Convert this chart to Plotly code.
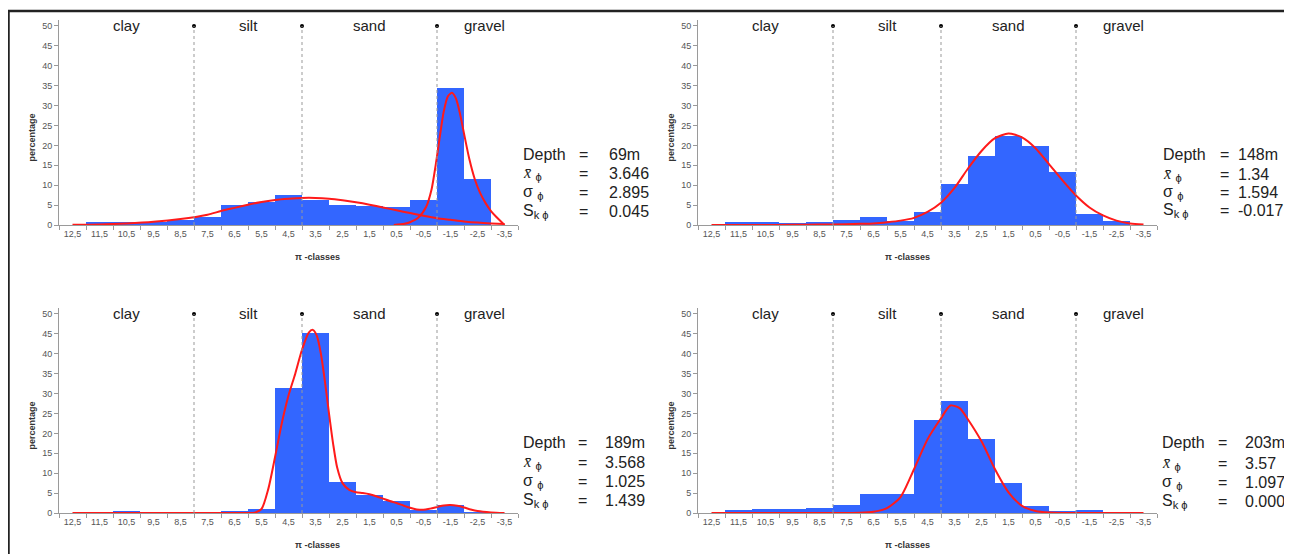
import plotly.graph_objects as go

# The page places the figure at an 8 px body margin, so the figure is sized to fit the window.
OFF = 8
W, H = 1292 - OFF, 554 - OFF

# ---------------- data ----------------
phi_classes = [12.5, 11.5, 10.5, 9.5, 8.5, 7.5, 6.5, 5.5, 4.5, 3.5, 2.5, 1.5, 0.5, -0.5, -1.5, -2.5, -3.5]
tick_labels = ["12,5", "11,5", "10,5", "9,5", "8,5", "7,5", "6,5", "5,5", "4,5", "3,5",
               "2,5", "1,5", "0,5", "-0,5", "-1,5", "-2,5", "-3,5"]
y_ticks = [0, 5, 10, 15, 20, 25, 30, 35, 40, 45, 50]

class_boundaries = [8, 4, -1]
region_names = ["clay", "silt", "sand", "gravel"]
region_centers = [10.5, 6.0, 1.5, -2.75]

pct_69m = [0, 0.8, 0.7, 0.7, 1.3, 1.9, 5.0, 5.7, 7.5, 6.3, 5.0, 4.9, 4.4, 6.3, 34.5, 11.5, 0]
pct_148m = [0, 0.75, 0.75, 0.5, 0.75, 1.2, 1.9, 1.1, 3.3, 10.2, 17.4, 22.4, 19.9, 13.3, 2.7, 1.0, 0]
pct_189m = [0, 0, 0.4, 0, 0, 0, 0.5, 1.0, 31.4, 45.1, 7.8, 4.4, 2.9, 0.7, 2.0, 0.2, 0]
pct_203m = [0, 0.7, 0.9, 0.9, 1.2, 1.9, 4.9, 4.7, 23.4, 28.1, 18.6, 7.5, 1.7, 0.5, 0.7, 0, 0]

# fitted curves
curve_69m_broad_x = [12.5, 11.5, 10.5, 9.5, 8.5, 7.5, 7.0, 6.5, 6.0, 5.5, 5.0, 4.5, 4.0, 3.5, 3.0,
                     2.5, 2.0, 1.5, 1.0, 0.5, 0.0, -0.5, -1.0, -1.5, -2.0, -2.5, -3.0, -3.5]
curve_69m_broad_y = [0.05, 0.15, 0.4, 0.8, 1.5, 2.6, 3.5, 4.3, 5.1, 5.8, 6.3, 6.6, 6.8, 6.8, 6.6,
                     6.2, 5.7, 5.1, 4.4, 3.7, 3.0, 2.3, 1.7, 1.3, 0.9, 0.6, 0.4, 0.25]
curve_69m_peak_x = [0.6, 0.2, 0.0, -0.3, -0.6, -0.8, -0.95, -1.1, -1.25, -1.4, -1.55, -1.7, -1.85,
                    -2.0, -2.2, -2.4, -2.6, -2.8, -3.0, -3.2, -3.35, -3.5]
curve_69m_peak_y = [0, 0.3, 0.7, 1.8, 4.6, 9.0, 15.0, 22.0, 28.5, 32.3, 33.2, 31.8, 28.0,
                    23.0, 16.5, 11.5, 8.0, 5.5, 3.5, 2.0, 1.0, 0]

curve_148m_x = [12.5, 11.5, 10.5, 9.5, 8.5, 7.5, 7.0, 6.5, 6.0, 5.5, 5.0, 4.5, 4.0, 3.5, 3.0, 2.5,
                2.0, 1.5, 1.0, 0.5, 0.0, -0.5, -1.0, -1.5, -2.0, -2.5, -3.0, -3.5]
curve_148m_y = [0, 0, 0, 0.05, 0.1, 0.2, 0.3, 0.4, 0.7, 1.1, 1.8, 3.3, 5.6, 9.3, 14.2, 18.6,
                21.8, 23.0, 22.0, 19.3, 15.3, 11.2, 7.4, 4.4, 2.4, 1.1, 0.4, 0.1]

curve_189m_x = [12.5, 11.5, 10.5, 9.5, 8.5, 7.5, 6.5, 6.0, 5.75, 5.5, 5.25, 5.0, 4.75, 4.5, 4.25,
                4.0, 3.75, 3.6, 3.45, 3.3, 3.15, 3.0, 2.85, 2.7, 2.5, 2.25, 2.0, 1.75, 1.5, 1.25,
                1.0, 0.75, 0.5, 0.25, 0.0, -0.25, -0.5, -0.75, -1.0, -1.25, -1.5, -1.75, -2.0,
                -2.25, -2.5, -3.0, -3.5]
curve_189m_y = [0, 0, 0, 0, 0, 0, 0, 0, 0.1, 1.0, 6.0, 14.0, 22.5, 29.5, 35.0,
                41.0, 45.3, 46.0, 44.5, 40.0, 33.0, 25.0, 17.5, 11.5, 7.5, 5.8, 5.2, 5.0, 4.7, 4.2,
                3.6, 3.0, 2.5, 1.9, 1.3, 0.9, 0.8, 1.1, 1.5, 1.9, 2.0, 1.8, 1.4,
                0.9, 0.5, 0.15, 0]

curve_203m_x = [12.5, 11.5, 10.5, 9.5, 8.5, 7.5, 7.0, 6.5, 6.0, 5.5, 5.0, 4.5, 4.0, 3.65, 3.3,
                3.0, 2.5, 2.0, 1.5, 1.0, 0.5, 0.0, -0.5, -1.5, -2.5, -3.5]
curve_203m_y = [0, 0, 0, 0, 0, 0, 0.05, 0.3, 1.2, 4.0, 11.0, 18.5, 23.8, 27.0, 26.3,
                23.5, 18.0, 11.0, 5.2, 1.8, 0.5, 0.1, 0, 0, 0, 0]

depths = ["69m", "148m", "189m", "203m"]
means = ["3.646", "1.34", "3.568", "3.57"]
sortings = ["2.895", "1.594", "1.025", "1.097"]
skewness = ["0.045", "-0.017", "1.439", "0.000"]

panels = [
    dict(pct=pct_69m, curves=[(curve_69m_broad_x, curve_69m_broad_y), (curve_69m_peak_x, curve_69m_peak_y)]),
    dict(pct=pct_148m, curves=[(curve_148m_x, curve_148m_y)]),
    dict(pct=pct_189m, curves=[(curve_189m_x, curve_189m_y)]),
    dict(pct=pct_203m, curves=[(curve_203m_x, curve_203m_y)]),
]

# ---------------- layout geometry (window pixels) ----------------
# (left px, right px, bottom px, top px) of each plot area
boxes = [
    (59, 518, 225, 20),
    (698, 1157, 225, 20),
    (59, 518, 513, 308),
    (698, 1157, 513, 308),
]
# stats block: label x, "=" x, value x, row ys
stat_pos = [
    (521, 583, 607, [155, 173, 192, 211]),
    (1161, 1224, 1236, [155, 174, 192, 210]),
    (521, 582, 603, [443, 462, 481, 500]),
    (1160, 1222, 1243, [443, 463, 482, 501]),
]

BLUE = "#3366FF"
RED = "#FF1A1A"
FONT = "Liberation Sans"
TXT = "#222222"


def px(x):
    return (x - OFF) / W


def py(y):
    return 1 - (y - OFF) / H


fig = go.Figure()
annotations = []
shapes = []

for i, p in enumerate(panels):
    n = "" if i == 0 else str(i + 1)
    xa, ya = "x" + n, "y" + n
    fig.add_trace(go.Bar(x=phi_classes, y=p["pct"], width=1.0, marker=dict(color=BLUE, line=dict(width=0)),
                         xaxis=xa, yaxis=ya, showlegend=False, hoverinfo="x+y"))
    for cx, cy in p["curves"]:
        fig.add_trace(go.Scatter(x=cx, y=cy, mode="lines", xaxis=xa, yaxis=ya, showlegend=False,
                                 line=dict(color=RED, width=2, shape="spline", smoothing=0.7)))
    fig.add_trace(go.Scatter(x=class_boundaries, y=[50] * len(class_boundaries), mode="markers",
                             marker=dict(color="black", size=4), xaxis=xa, yaxis=ya, showlegend=False,
                             cliponaxis=False))
    l, r, b, t = boxes[i]
    axis_common = dict(showline=True, linecolor="#9a9a9a", linewidth=1, showgrid=False, zeroline=False,
                       automargin=False, tickfont=dict(family=FONT, size=9, color="#555555"))
    fig.update_layout(**{
        ("xaxis" + n): dict(domain=[px(l), px(r)], anchor=ya, range=[13, -4], tickmode="array",
                            tickvals=phi_classes, ticktext=tick_labels, ticks="",
                            minor=dict(ticks="outside", ticklen=4, tick0=0, dtick=1, tickcolor="#9a9a9a"),
                            **axis_common),
        ("yaxis" + n): dict(domain=[py(b), py(t)], anchor=xa, range=[0, 51.5], tickmode="array",
                            tickvals=y_ticks, ticks="outside", ticklen=4, tickcolor="#9a9a9a",
                            **axis_common),
    })
    for xb in class_boundaries:
        shapes.append(dict(type="line", xref=xa, yref=ya, x0=xb, x1=xb, y0=0, y1=50,
                           line=dict(color="#999999", width=1, dash="dot"), layer="above"))
    for name, cxn in zip(region_names, region_centers):
        annotations.append(dict(xref=xa, yref=ya, x=cxn, y=50, text=name, showarrow=False,
                                yanchor="middle", font=dict(family=FONT, size=15, color=TXT)))
    # axis titles
    annotations.append(dict(xref="paper", yref="paper", x=px((l + r) / 2 + 4), y=py(b + 32),
                            text="<b>π -classes</b>", showarrow=False, yanchor="middle",
                            font=dict(family=FONT, size=9, color="#333333")))
    annotations.append(dict(xref="paper", yref="paper", x=px(l - 28), y=py((b + t) / 2 + 15),
                            text="<b>percentage</b>", showarrow=False, textangle=-90,
                            xanchor="center", yanchor="middle",
                            font=dict(family=FONT, size=9, color="#333333")))
    # stats block
    lx, ex, vx, rows = stat_pos[i]
    labels = ["Depth",
              "<span style=\"font-family:'Liberation Serif'\"><i>x̄</i></span> <sub>ϕ</sub>",
              "σ <sub>ϕ</sub>",
              "S<sub>k ϕ</sub>"]
    values = [depths[i], means[i], sortings[i], skewness[i]]
    for lab, val, ry in zip(labels, values, rows):
        annotations.append(dict(xref="paper", yref="paper", x=px(lx), y=py(ry), text=lab,
                                showarrow=False, xanchor="left", yanchor="middle",
                                font=dict(family=FONT, size=16, color=TXT)))
        annotations.append(dict(xref="paper", yref="paper", x=px(ex), y=py(ry), text="=",
                                showarrow=False, xanchor="center", yanchor="middle",
                                font=dict(family=FONT, size=16, color=TXT)))
        annotations.append(dict(xref="paper", yref="paper", x=px(vx), y=py(ry), text=val,
                                showarrow=False, xanchor="left", yanchor="middle",
                                font=dict(family=FONT, size=16, color=TXT)))

# frame lines
shapes.append(dict(type="line", xref="paper", yref="paper", x0=px(7), x1=1.0, y0=py(11), y1=py(11),
                   line=dict(color="#222222", width=2.5)))
shapes.append(dict(type="line", xref="paper", yref="paper", x0=px(8.5), x1=px(8.5), y0=py(10), y1=0,
                   line=dict(color="#222222", width=2.5)))

fig.update_layout(width=W, height=H, autosize=False, margin=dict(l=0, r=0, t=0, b=0),
                  paper_bgcolor="white", plot_bgcolor="white", bargap=0, barmode="overlay",
                  showlegend=False, annotations=annotations, shapes=shapes,
                  font=dict(family=FONT))

fig.write_html("out.html")
